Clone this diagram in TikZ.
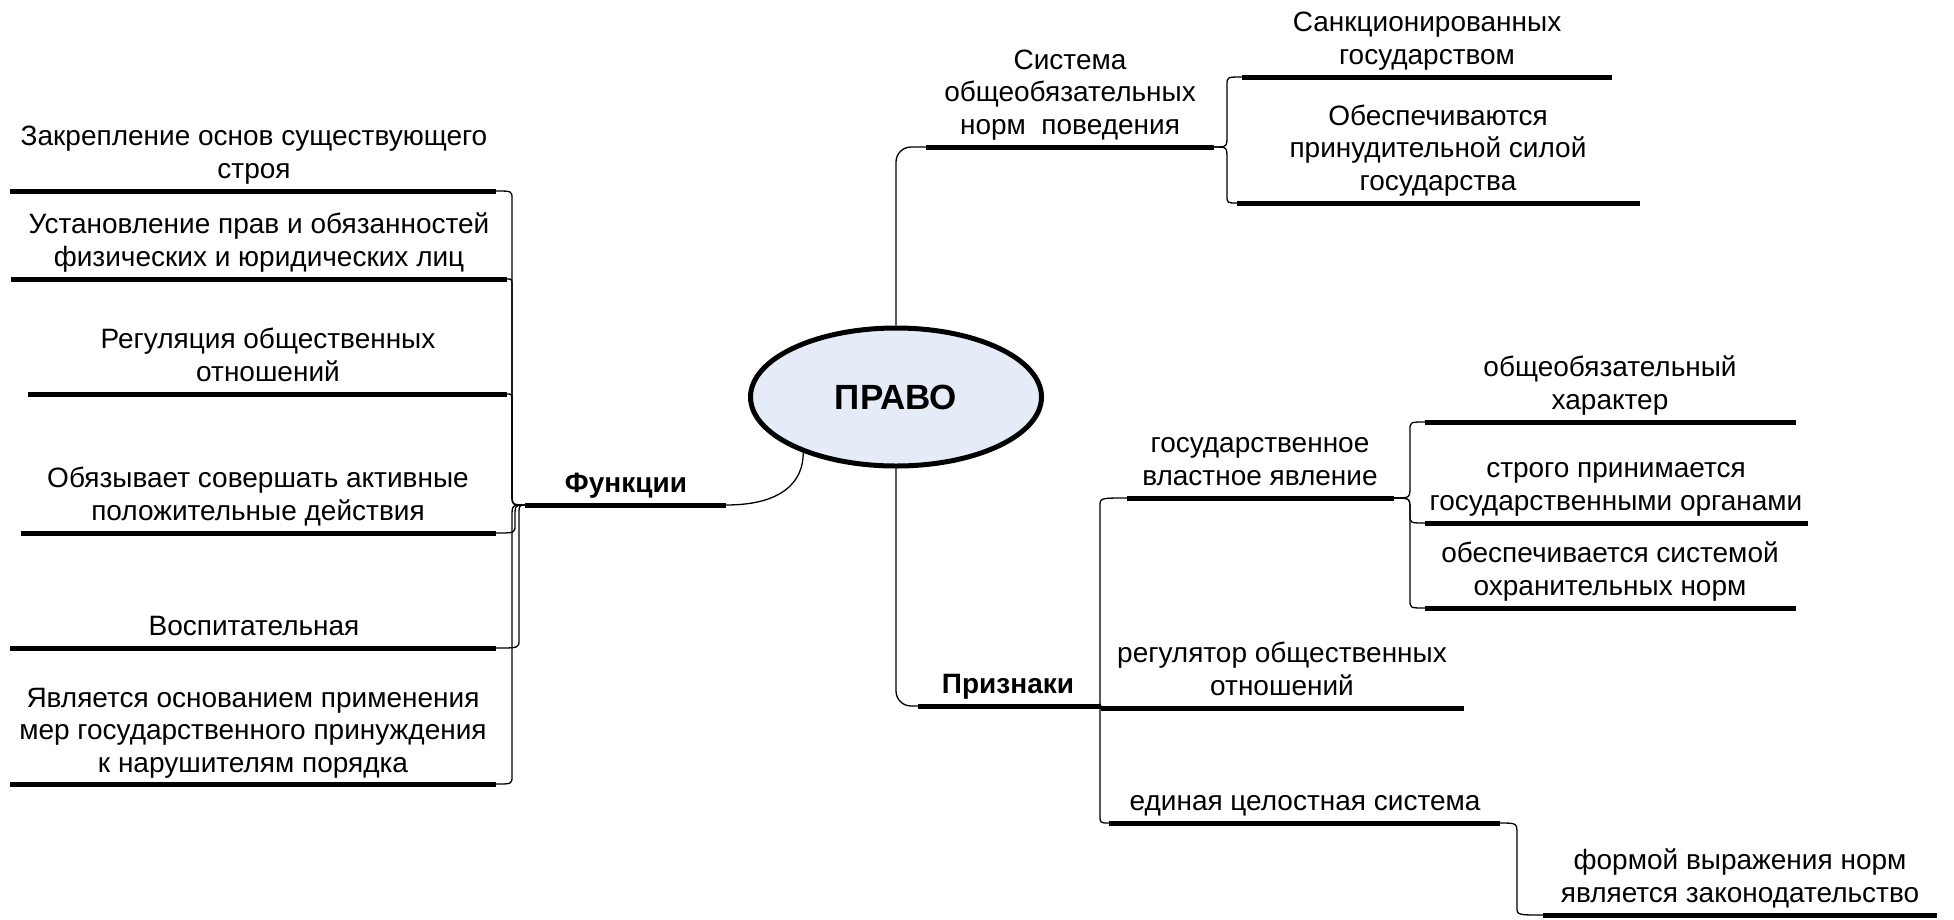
\documentclass[tikz,border=0pt]{standalone}
\usepackage{fontspec}
\setmainfont{Liberation Sans}
\usetikzlibrary{shapes.geometric,calc}
\definecolor{pravofill}{RGB}{229,235,247}
\newcommand\lbsize{\fontsize{28}{32.5}\selectfont}
\newcommand\brch[3]{%
  \draw[conn] let \p1=(#1), \p2=(#3), \n1={sign(\y2-\y1)} in
    (\p1) .. controls ({#2pt},\y1) .. ({#2pt},{\y1+\n1*12pt})
    -- ({#2pt},{\y2-\n1*8pt}) .. controls ({#2pt},\y2) .. (\p2);}
\tikzset{
  bar/.style={line width=5pt},
  conn/.style={line width=1.3pt},
  lbl/.style={anchor=south, inner sep=0pt, align=center, font=\lbsize, execute at end node=\strut},
  hdr/.style={lbl, font=\lbsize\bfseries},
}
\begin{document}
\begin{tikzpicture}[x=1pt,y=-1pt]
\useasboundingbox[fill=white] (0,0) rectangle (1954,919);

% ---------- left branch: Функции ----------
\coordinate (L1a) at (10,191);  \coordinate (L1b) at (496,191);
\coordinate (L2a) at (11,279);  \coordinate (L2b) at (507,279);
\coordinate (L3a) at (28,394);  \coordinate (L3b) at (507,394);
\coordinate (L4a) at (21,533);  \coordinate (L4b) at (496,533);
\coordinate (L5a) at (10,648);  \coordinate (L5b) at (496,648);
\coordinate (L6a) at (10,784);  \coordinate (L6b) at (496,784);
\coordinate (FunL) at (525,505); \coordinate (FunR) at (726,505);

\node[lbl] (t1) at (254,188) {Закрепление основ существующего\\строя};
\node[lbl] (t2) at (259,276) {Установление прав и обязанностей\\физических и юридических лиц};
\node[lbl] (t3) at (268,391) {Регуляция общественных\\отношений};
\node[lbl] (t4) at (258,530) {Обязывает совершать активные\\положительные действия};
\node[lbl] (t5) at (254,645) {Воспитательная};
\node[lbl] (t6) at (253,782) {Является основанием применения\\мер государственного принуждения\\к нарушителям порядка};
\node[hdr] (fun) at (626,502) {Функции};

\foreach \i in {1,...,6}{\draw[bar] (L\i a) -- (L\i b);}
\draw[bar] (FunL) -- (FunR);

\brch{FunL}{512}{L1b}
\brch{FunL}{512}{L2b}
\brch{FunL}{512}{L3b}
\brch{FunL}{515}{L4b}
\brch{FunL}{519}{L5b}
\brch{FunL}{512}{L6b}

% ---------- centre ----------
\node[ellipse, draw, line width=5pt, fill=pravofill, minimum width=291pt, minimum height=138pt,
      inner sep=0pt, font=\fontsize{35}{40}\selectfont\bfseries] (pravo) at (896,397) {ПРАВО};
\draw[conn] (FunR) .. controls +(55,0) and +(0,30) .. (pravo.211);

% ---------- top right ----------
\coordinate (SysL) at (926,147);  \coordinate (SysR) at (1214,147);
\coordinate (SanL) at (1242,77);  \coordinate (SanR) at (1612,77);
\coordinate (ObL) at (1237,203);  \coordinate (ObR) at (1640,203);
\node[lbl] (sys) at (1070,144) {Система\\общеобязательных\\норм~ поведения};
\node[lbl] (san) at (1427,74) {Санкционированных\\государством};
\node[lbl] (obe) at (1438,200) {Обеспечиваются\\принудительной силой\\государства};
\draw[bar] (SysL) -- (SysR);
\draw[bar] (SanL) -- (SanR);
\draw[bar] (ObL) -- (ObR);
\draw[conn, rounded corners=15pt] (pravo.north) |- (SysL);
\brch{SysR}{1227}{SanL}
\brch{SysR}{1227}{ObL}

% ---------- bottom right: Признаки ----------
\coordinate (PriL) at (918,706);  \coordinate (PriR) at (1101,706);
\coordinate (GosL) at (1127,498); \coordinate (GosR) at (1394,498);
\coordinate (ObzL) at (1425,422); \coordinate (ObzR) at (1796,422);
\coordinate (StrL) at (1425,523); \coordinate (StrR) at (1808,523);
\coordinate (ObsL) at (1425,608); \coordinate (ObsR) at (1796,608);
\coordinate (RegL) at (1101,708); \coordinate (RegR) at (1464,708);
\coordinate (EdL) at (1109,823);  \coordinate (EdR) at (1500,823);
\coordinate (FormL) at (1543,915); \coordinate (FormR) at (1937,915);

\node[hdr] (pri) at (1008,703) {Признаки};
\node[lbl] (gos) at (1260,495) {государственное\\властное явление};
\node[lbl] (obz) at (1610,419) {общеобязательный\\характер};
\node[lbl] (str) at (1616,520) {строго принимается\\государственными органами};
\node[lbl] (obs) at (1610,605) {обеспечивается системой\\охранительных норм};
\node[lbl] (reg) at (1282,705) {регулятор общественных\\отношений};
\node[lbl] (edi) at (1305,820) {единая целостная система};
\node[lbl] (frm) at (1740,912) {формой выражения норм\\является законодательство};

\foreach \a/\b in {PriL/PriR,GosL/GosR,ObzL/ObzR,StrL/StrR,ObsL/ObsR,RegL/RegR,EdL/EdR,FormL/FormR}
  {\draw[bar] (\a) -- (\b);}

\draw[conn, rounded corners=15pt] (pravo.south) |- (PriL);
\brch{PriR}{1100}{GosL}
\brch{PriR}{1100}{EdL}
\draw[conn] (PriR) -- (RegL);
\brch{GosR}{1410}{ObzL}
\brch{GosR}{1410}{StrL}
\brch{GosR}{1410}{ObsL}
\brch{EdR}{1517}{FormL}
\end{tikzpicture}
\end{document}
